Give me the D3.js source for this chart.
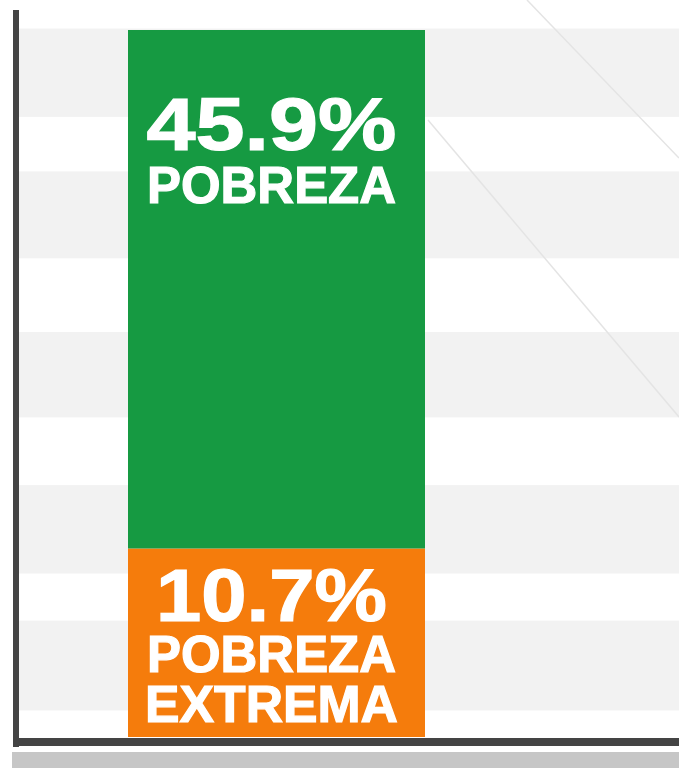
<!DOCTYPE html>
<html>
<head>
<meta charset="utf-8">
<script src="https://cdn.jsdelivr.net/npm/d3@7"></script>
<style>
  html, body { margin: 0; padding: 0; background: #ffffff; }
  svg { display: block; }
  .label { fill: #ffffff; stroke: #ffffff; stroke-width: 1.2px; font-family: "Liberation Sans", Arial, sans-serif; font-weight: bold; }
</style>
</head>
<body>
<div id="chart"></div>
<script>
// Data
var categories = ["Pobreza"];
var segmentNames = ["POBREZA EXTREMA", "POBREZA"];
var segmentValues = [10.7, 45.9];      // top of each stacked segment (%)
var segmentLabels = [["10.7%", "POBREZA", "EXTREMA"], ["45.9%", "POBREZA"]];
var axisMin = -2.1;                     // where the baseline sits on the value axis
// light background bands (value ranges)
var bandLow  = [-0.3, 9.0, 19.6, 30.4, 40.0];
var bandHigh = [5.8, 15.0, 25.4, 36.3, 46.0];

var width = 679, height = 768;
var baseY = 737, topY = 30;

var svg = d3.select("#chart")
    .append("svg")
    .attr("width", width)
    .attr("height", height);

var y = d3.scaleLinear()
    .domain([axisMin, d3.max(segmentValues)])
    .range([baseY, topY]);

var x = d3.scaleBand()
    .domain(categories)
    .range([128, 425])
    .padding(0);

// striped background
svg.selectAll("rect.band")
    .data(d3.range(bandLow.length))
    .enter()
    .append("rect")
    .attr("class", "band")
    .attr("x", 19)
    .attr("width", width - 19)
    .attr("y", function(i) { return y(bandHigh[i]); })
    .attr("height", function(i) { return y(bandLow[i]) - y(bandHigh[i]); })
    .style("fill", "#f2f2f2");

// faint diagonal lines in the background
svg.append("line")
    .attr("x1", 527).attr("y1", 0)
    .attr("x2", 679).attr("y2", 158)
    .style("stroke", "#e4e4e4").style("stroke-width", 1.5);
svg.append("line")
    .attr("x1", 428).attr("y1", 120)
    .attr("x2", 679).attr("y2", 417)
    .style("stroke", "#e4e4e4").style("stroke-width", 1.5);

// stacked bar
var colors = ["#f57c0c", "#169a42"];
var stack = segmentValues.map(function(v, i) {
    return { name: segmentNames[i], y0: i === 0 ? axisMin : segmentValues[i - 1], y1: v, i: i };
});

svg.selectAll("rect.seg")
    .data(stack)
    .enter()
    .append("rect")
    .attr("class", "seg")
    .attr("x", x(categories[0]))
    .attr("width", x.bandwidth())
    .attr("y", function(d) { return y(d.y1); })
    .attr("height", function(d) { return y(d.y0) - y(d.y1); })
    .style("fill", function(d) { return colors[d.i]; });

// labels inside the bar, one text block per segment
var cx = x(categories[0]) + x.bandwidth() / 2 - 5;
var lineSpec = [
    // [baseline offset from segment top, font size, text width]
    [[73, 74, 231], [124, 52, 249], [174, 52, 253]],
    [[120, 74, 250], [173, 52, 249]]
];

stack.forEach(function(d) {
    var top = y(d.y1);
    var label = svg.append("text")
        .attr("class", "label")
        .attr("text-anchor", "middle");
    segmentLabels[d.i].forEach(function(t, j) {
        var s = lineSpec[d.i][j];
        label.append("tspan")
            .attr("x", cx)
            .attr("y", top + s[0])
            .attr("textLength", s[2])
            .attr("lengthAdjust", "spacingAndGlyphs")
            .style("font-size", s[1] + "px")
            .text(t);
    });
});

// axes
svg.append("rect")
    .attr("x", 12).attr("y", 752)
    .attr("width", width - 12).attr("height", 16)
    .style("fill", "#c6c6c6");
svg.append("line")
    .attr("x1", 16).attr("y1", 10)
    .attr("x2", 16).attr("y2", 747)
    .style("stroke", "#444").style("stroke-width", 6);
svg.append("line")
    .attr("x1", 13).attr("y1", y(axisMin) + 5)
    .attr("x2", width).attr("y2", y(axisMin) + 5)
    .style("stroke", "#444").style("stroke-width", 8);
</script>
</body>
</html>
